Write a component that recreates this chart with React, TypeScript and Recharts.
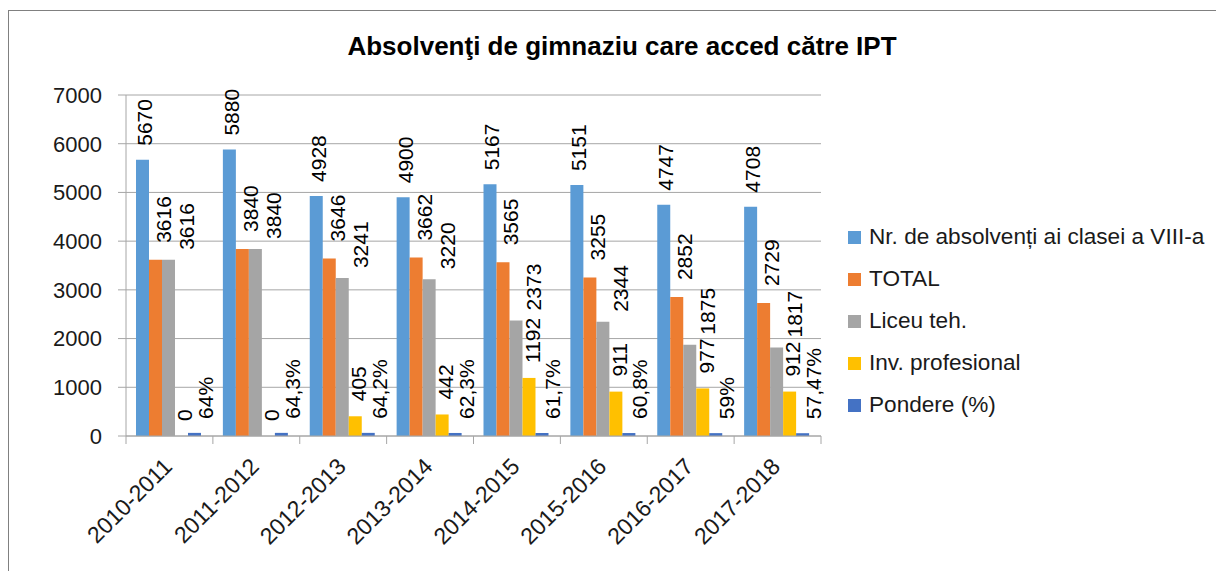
import { ComposedChart, Bar, Line, XAxis, YAxis, CartesianGrid, LabelList } from 'recharts';

const TITLE = 'Absolvenţi de gimnaziu care acced către IPT';

const years = [
  '2010-2011',
  '2011-2012',
  '2012-2013',
  '2013-2014',
  '2014-2015',
  '2015-2016',
  '2016-2017',
  '2017-2018',
];
const absolventi = [5670, 5880, 4928, 4900, 5167, 5151, 4747, 4708];
const total = [3616, 3840, 3646, 3662, 3565, 3255, 2852, 2729];
const liceu = [3616, 3840, 3241, 3220, 2373, 2344, 1875, 1817];
const profesional = [0, 0, 405, 442, 1192, 911, 977, 912];
const pondere = [64, 64.3, 64.2, 62.3, 61.7, 60.8, 59, 57.47];
const yTicks = [0, 1000, 2000, 3000, 4000, 5000, 6000, 7000];

const data = years.map((year, i) => ({
  year,
  absolventi: absolventi[i],
  total: total[i],
  liceu: liceu[i],
  profesional: profesional[i],
  pondere: pondere[i],
}));

const plain = (v: number) => String(v);
const percent = (v: number) => `${String(v).replace('.', ',')}%`;

// label shift from bar centre (dx) and gap above bar top
const series = [
  { key: 'absolventi', name: 'Nr. de absolvenți ai clasei a VIII-a', color: '#5B9BD5', dx: 2, gap: 14, fmt: plain },
  { key: 'total', name: 'TOTAL', color: '#ED7D31', dx: 8, gap: 17, fmt: plain },
  { key: 'liceu', name: 'Liceu teh.', color: '#A5A5A5', dx: 18, gap: 10, fmt: plain },
  { key: 'profesional', name: 'Inv. profesional', color: '#FFC000', dx: 2, gap: 15, fmt: plain },
  { key: 'pondere', name: 'Pondere (%)', color: '#4472C4', dx: 11, gap: 14, fmt: percent },
];

const FONT = '"Liberation Sans", Arial, sans-serif';
const TEXT = '#1a1a1a';
const GRID = '#a6a6a6';

const PLOT_W = 695;
const CAT_GAP = 10;
const BAR_W = (PLOT_W / years.length - 2 * CAT_GAP) / series.length;

const rotatedLabel =
  (dx: number, gap: number, fmt: (v: number) => string) => (props: any) => {
    const vb = props.viewBox ?? {};
    const x = Number(props.x ?? vb.x);
    const y = Number(props.y ?? vb.y);
    const w = Number(props.width ?? vb.width ?? 0) || 0;
    const cx = x + w / 2 + dx;
    const top = y - gap;
    return (
      <text
        x={cx}
        y={top}
        transform={`rotate(-90 ${cx} ${top})`}
        textAnchor="start"
        dominantBaseline="central"
        fontSize={21}
        fontFamily={FONT}
        fill="#000"
      >
        {fmt(Number(props.value))}
      </text>
    );
  };

const YearTick = (props: any) => {
  const { x, y, payload, index } = props;
  const half = payload.offset ?? PLOT_W / years.length / 2;
  const tx = x + 4;
  const ty = y + 24;
  return (
    <g>
      <line x1={x - half} y1={y - 8} x2={x - half} y2={y} stroke={GRID} />
      {index === years.length - 1 && (
        <line x1={x + half} y1={y - 8} x2={x + half} y2={y} stroke={GRID} />
      )}
      <text
        x={tx}
        y={ty}
        transform={`rotate(-45 ${tx} ${ty})`}
        textAnchor="end"
        fontSize={23}
        fontFamily={FONT}
        fill={TEXT}
      >
        {payload.value}
      </text>
    </g>
  );
};

const yellow = series[3];

export default function App() {
  return (
    <div
      style={{
        position: 'relative',
        width: 1216,
        height: 563,
        overflow: 'hidden',
        fontFamily: FONT,
        background: '#fff',
      }}
    >
      <div
        style={{
          position: 'absolute',
          left: 0,
          top: 2,
          width: 1300,
          height: 700,
          borderTop: '1px solid #808080',
          borderLeft: '1px solid #808080',
        }}
      />
      <div
        style={{
          position: 'absolute',
          left: 0,
          top: 25,
          width: 1228,
          textAlign: 'center',
          fontSize: 26,
          lineHeight: '26px',
          fontWeight: 'bold',
          color: '#000',
        }}
      >
        {TITLE}
      </div>
      <div style={{ position: 'absolute', left: 0, top: 0 }}>
        <ComposedChart
          width={1216}
          height={563}
          data={data}
          margin={{ top: 87, right: 403, left: 0, bottom: 35 }}
          barCategoryGap={CAT_GAP}
          barGap={0}
        >
          <CartesianGrid vertical={false} stroke={GRID} />
          <XAxis
            dataKey="year"
            height={100}
            axisLine={{ stroke: GRID }}
            tickLine={false}
            tickSize={8}
            tickMargin={0}
            interval={0}
            tick={<YearTick />}
          />
          <YAxis
            width={118}
            domain={[0, 7000]}
            ticks={yTicks}
            axisLine={{ stroke: GRID }}
            tickLine={{ stroke: GRID }}
            tickSize={8}
            tickMargin={16}
            tick={{ fill: TEXT, fontSize: 22, fontFamily: FONT }}
          />
          {series.map((s) => (
            <Bar key={s.key} dataKey={s.key} name={s.name} fill={s.color} isAnimationActive={false}>
              {s.key !== 'profesional' && (
                <LabelList dataKey={s.key} content={rotatedLabel(s.dx, s.gap, s.fmt)} />
              )}
            </Bar>
          ))}
          {/* zero-height bars get no label, so the yellow labels ride on an invisible line */}
          <Line
            dataKey="profesional"
            stroke="none"
            dot={false}
            activeDot={false}
            legendType="none"
            isAnimationActive={false}
          >
            <LabelList
              dataKey="profesional"
              content={rotatedLabel(BAR_W + yellow.dx, yellow.gap, yellow.fmt)}
            />
          </Line>
        </ComposedChart>
      </div>
      {series.map((s, i) => (
        <div
          key={s.key}
          style={{
            position: 'absolute',
            left: 840,
            top: 208 + i * 42,
            height: 42,
            display: 'flex',
            alignItems: 'center',
            whiteSpace: 'nowrap',
            fontSize: 22.6,
            color: TEXT,
          }}
        >
          <span style={{ width: 13, height: 13, background: s.color, marginRight: 8 }} />
          <span>{s.name}</span>
        </div>
      ))}
    </div>
  );
}
